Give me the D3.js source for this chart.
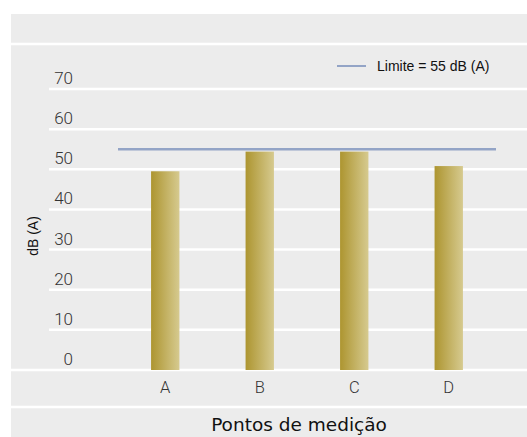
<!DOCTYPE html>
<html>
<head>
<meta charset="utf-8">
<script src="https://cdn.jsdelivr.net/npm/d3@7"></script>
<style>
  html, body { margin: 0; padding: 0; background: #ffffff; }
  svg { display: block; }
</style>
</head>
<body>
<svg id="chart" width="527" height="437"></svg>
<script>
// Measurement points and their sound levels, dB(A)
const categories = ["A", "B", "C", "D"];
const levels = [49.5, 54.4, 54.4, 50.8];
const limitValue = 55;
const limitLabel = "Limite = 55 dB (A)";
const yTicks = [0, 10, 20, 30, 40, 50, 60, 70];
const yTitle = "dB (A)";
const xTitle = "Pontos de medição";

const svg = d3.select("#chart");
const W = 527, H = 437;
const panelLeft = 11, panelTop = 14;
const gridLeft = 49;

const y = d3.scaleLinear().domain([0, 70]).range([370, 89]);
const x = d3.scaleBand().domain(categories).range([118, 496]);
const barW = x.bandwidth() * 0.3;

// gradient for the bars
const defs = svg.append("defs");
const grad = defs.append("linearGradient").attr("id", "barGrad")
  .attr("x1", "0%").attr("x2", "100%").attr("y1", "0%").attr("y2", "0%");
grad.append("stop").attr("offset", "0%").attr("stop-color", "#ad9530");
grad.append("stop").attr("offset", "100%").attr("stop-color", "#d6ca8f");

// panel background
svg.append("rect")
  .attr("x", panelLeft).attr("y", panelTop)
  .attr("width", W - panelLeft).attr("height", H - panelTop)
  .attr("fill", "#ececec");

// separators
svg.append("line")
  .attr("x1", panelLeft).attr("x2", W).attr("y1", 44).attr("y2", 44)
  .attr("stroke", "#ffffff").attr("stroke-width", 2.5);
svg.append("line")
  .attr("x1", panelLeft).attr("x2", W).attr("y1", 407).attr("y2", 407)
  .attr("stroke", "#ffffff").attr("stroke-width", 2.5);

// gridlines
svg.append("g").selectAll("line").data(yTicks).join("line")
  .attr("x1", d => d === 0 ? panelLeft : gridLeft)
  .attr("x2", W)
  .attr("y1", d => y(d)).attr("y2", d => y(d))
  .attr("stroke", "#ffffff").attr("stroke-width", 2.5);

// y tick labels sit just above their gridline
svg.append("g").selectAll("text").data(yTicks).join("text")
  .attr("x", 73).attr("y", d => y(d) - 5)
  .attr("text-anchor", "end")
  .attr("font-family", "Roboto, 'Open Sans', sans-serif")
  .attr("font-weight", 300)
  .attr("font-size", 17)
  .attr("fill", "#333333")
  .text(d => d);

// bars
svg.append("g").selectAll("rect").data(levels).join("rect")
  .attr("x", (d, i) => x(categories[i]) + x.bandwidth() / 2 - barW / 2)
  .attr("y", d => y(d))
  .attr("width", barW)
  .attr("height", d => y(0) - y(d))
  .attr("fill", "url(#barGrad)");

// limit line
svg.append("line")
  .attr("x1", x.range()[0]).attr("x2", x.range()[1])
  .attr("y1", y(limitValue)).attr("y2", y(limitValue))
  .attr("stroke", "#93a4c6").attr("stroke-width", 2.5);

// x tick labels
svg.append("g").selectAll("text").data(categories).join("text")
  .attr("x", d => x(d) + x.bandwidth() / 2)
  .attr("y", 393)
  .attr("text-anchor", "middle")
  .attr("font-family", "Roboto, 'Open Sans', sans-serif")
  .attr("font-weight", 300)
  .attr("font-size", 16.5)
  .attr("fill", "#333333")
  .text(d => d);

// axis titles
svg.append("text")
  .attr("transform", "translate(38,236) rotate(-90)")
  .attr("text-anchor", "middle")
  .attr("font-family", "'Liberation Sans', Arial, sans-serif")
  .attr("font-size", 14)
  .attr("fill", "#111111")
  .text(yTitle);

svg.append("text")
  .attr("x", 299).attr("y", 431)
  .attr("text-anchor", "middle")
  .attr("font-family", "'DejaVu Sans', sans-serif")
  .attr("font-size", 18.5)
  .attr("fill", "#111111")
  .text(xTitle);

// legend
const legend = svg.append("g");
legend.append("line")
  .attr("x1", 337).attr("x2", 366).attr("y1", 66).attr("y2", 66)
  .attr("stroke", "#93a4c6").attr("stroke-width", 2);
legend.append("text")
  .attr("x", 377).attr("y", 71)
  .attr("font-family", "'Liberation Sans', Arial, sans-serif")
  .attr("font-size", 14)
  .attr("fill", "#111111")
  .text(limitLabel);
</script>
</body>
</html>
